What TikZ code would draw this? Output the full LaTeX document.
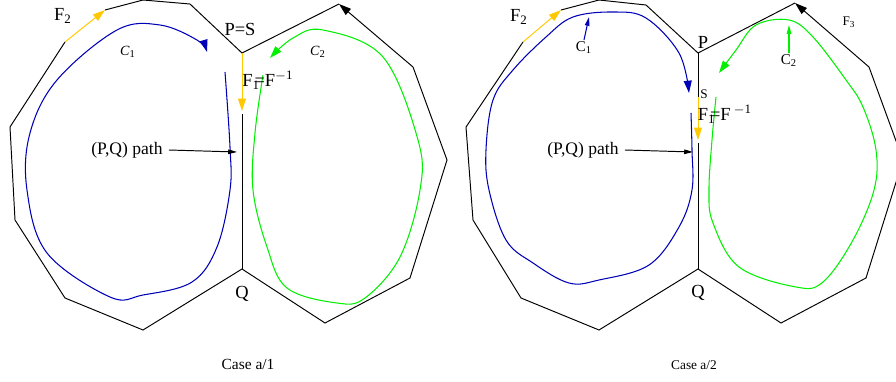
\documentclass[tikz,border=0pt]{standalone}
\usepackage{fontspec}
\setmainfont{Liberation Serif}
\usetikzlibrary{arrows.meta}
\definecolor{loopblue}{HTML}{0000B8}
\definecolor{loopgreen}{HTML}{00F000}
\definecolor{gold}{HTML}{FFC800}

\begin{document}
\begin{tikzpicture}[x=0.02cm,y=-0.02cm,font=\fontsize{10}{12}\selectfont,
  edge/.style={black,line width=0.55pt},
  loopline/.style={line width=0.6pt},
  tipbig/.style={-{Triangle[length=7pt,width=4.5pt]}},
  tipsmall/.style={-{Triangle[length=5pt,width=2.6pt]}},
  big/.style={font=\fontsize{10.5}{12}\selectfont},
  little/.style={font=\fontsize{7.5}{9}\selectfont,inner sep=1pt}]
\clip (0,0) rectangle (896,382);
% left: case a/1
\begin{scope}
 \coordinate (p1) at (242,53);
 \coordinate (q1) at (242,269);
 \coordinate (f1) at (65,42);
 \coordinate (g1) at (105,10);
 \coordinate (k1) at (339,4);
 \coordinate (h1) at (413,67);
 \coordinate (s1) at (242,111);
 \coordinate (t1) at (242,114);
 \draw[edge] (g1) -- (143,0) -- (190,4) -- (p1) -- (k1);
 \draw[edge] (f1) -- (10,127) -- (15,220) -- (65,298) -- (143,330) -- (q1) -- (325,323) -- (410,278) -- (447,160) -- (h1);
 \draw[edge,tipbig] (h1) -- (k1);
 \draw[edge,gold,tipbig] (f1) -- (g1);
 \draw[edge] (t1) -- (q1);
 \draw[edge,gold,tipbig] (p1) -- (s1);
 % loops
 \draw[loopline,loopblue,tipbig] plot[smooth,tension=0.6] coordinates {(225,72) (230,147) (230,190) (217,247) (192,282) (143,295) (110,297) (47,253) (27,190) (30,133) (57,80) (117,30) (160,25) (197,40) (207,52)};
 \draw[loopline,loopgreen,tipbig] plot[smooth,tension=0.6] coordinates {(263,75) (255,133) (253,190) (267,247) (287,288) (337,303) (365,298) (400,257) (420,190) (418,140) (383,57) (323,30) (293,38) (270,58)};
 % labels
 \node[big] (lF2) at (63,16) {F\textsubscript{2}};
 \node[big] (lPS) at (240,29) {P=S};
 \node[big] (lF1) at (268,80) {F\textsubscript{1}\kern-0.3em=F\textsuperscript{$-$1}};
 \node[little,font=\fontsize{8}{9}\selectfont] (lC1) at (128,52) {\textit{C}\textsubscript{1}};
 \node[little,font=\fontsize{8}{9}\selectfont] (lC2) at (318,52) {\textit{C}\textsubscript{2}};
 \node (lpath) at (127,150) {(P,Q) path};
 \coordinate (lpq) at (237,152);
 \draw[edge,tipsmall] (lpath.east) -- (lpq);
 \node[big] (lQ) at (242,294) {Q};
 \node[font=\fontsize{8.8}{10}\selectfont] (lcase) at (248,364) {Case a/1};
\end{scope}
% right: case a/2
\begin{scope}[shift={(456,0)}]
 \coordinate (p2) at (242,53);
 \coordinate (q2) at (242,269);
 \coordinate (f2) at (67,42);
 \coordinate (g2) at (105,10);
 \coordinate (k2) at (339,3);
 \coordinate (h2) at (413,67);
 \coordinate (s2) at (242,97);
 \coordinate (u2) at (242,140);
 \coordinate (t2) at (242,143);
 \draw[edge] (g2) -- (143,0) -- (190,5) -- (p2) -- (k2);
 \draw[edge] (f2) -- (10,127) -- (17,220) -- (65,298) -- (143,330) -- (q2) -- (325,323) -- (410,278) -- (447,160) -- (h2);
 \draw[edge,tipbig] (h2) -- (k2);
 \draw[edge,gold,tipbig] (f2) -- (g2);
 \draw[edge] (p2) -- (s2);
 \draw[edge] (t2) -- (q2);
 \draw[edge,gold,tipbig] (s2) -- (u2);
 % loops
 \draw[loopline,loopblue,tipbig] plot[smooth,tension=0.6] coordinates {(235,113) (236,150) (236,190) (223,227) (193,265) (143,280) (113,283) (77,263) (50,240) (33,190) (30,150) (37,100) (57,70) (90,37) (117,17) (157,12) (190,18) (223,53) (233,93)};
 \draw[loopline,loopgreen,tipbig] plot[smooth,tension=0.6] coordinates {(260,97) (256,140) (253,190) (257,223) (283,267) (340,287) (367,282) (397,240) (418,190) (420,150) (407,107) (390,80) (357,37) (333,20) (300,25) (280,50) (263,73)};
 % labels
 \node[big] (rF2) at (63,17) {F\textsubscript{2}};
 \node[big] (rP) at (247,42) {P};
 \node[little] (rS) at (248,94) {S};
 \node[big] (rF1) at (269,114) {F\textsubscript{1}\kern-0.3em=F\,\textsuperscript{$-$1}};
 \node[little,font=\fontsize{8.5}{10}\selectfont] (rC1) at (128,48) {C\textsubscript{1}};
 \coordinate (rc1) at (133,17);
 \draw[loopline,loopblue,tipsmall] (rC1.north) -- (rc1);
 \node[little,font=\fontsize{8.5}{10}\selectfont] (rC2) at (333,61) {C\textsubscript{2}};
 \coordinate (rc2) at (333,25);
 \draw[loopline,loopgreen,tipsmall] (rC2.north) -- (rc2);
 \node[little] (rF3) at (393,22) {F\textsubscript{3}};
 \node (rpath) at (127,150) {(P,Q) path};
 \coordinate (rpq) at (237,152);
 \draw[edge,tipsmall] (rpath.east) -- (rpq);
 \node[big] (rQ) at (242,293) {Q};
 \node[font=\fontsize{7.6}{9}\selectfont] (rcase) at (238,365) {Case a/2};
\end{scope}
\end{tikzpicture}
\end{document}
